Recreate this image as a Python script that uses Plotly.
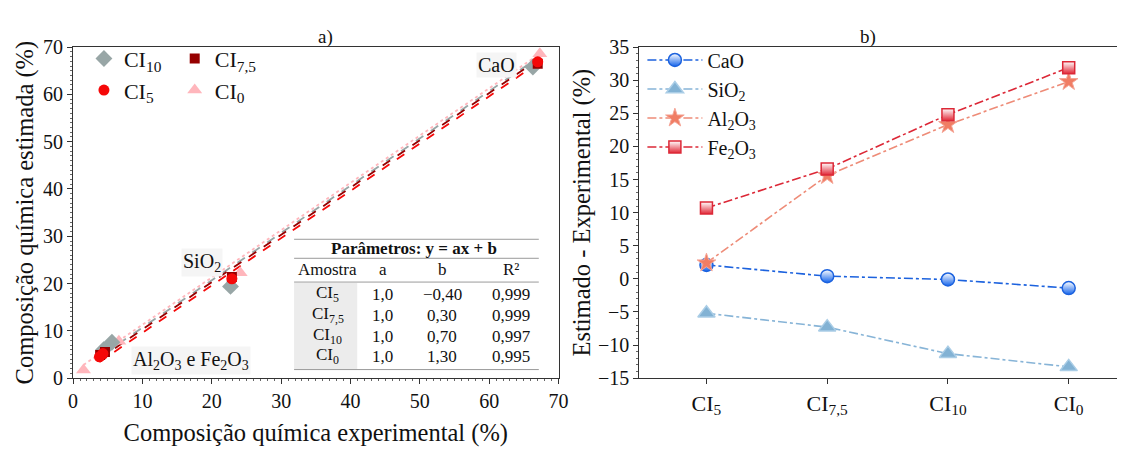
import plotly.graph_objects as go

W, H = 1127, 450
FONT = "Liberation Serif"


def px(x):
    return x / W


def py(y):
    return 1 - y / H


# ---- panel a) data: experimental vs estimated composition (CaO, SiO2, Al2O3, Fe2O3)
sample_labels = {"CI10": "CI<sub>10</sub>", "CI7.5": "CI<sub>7,5</sub>",
                 "CI5": "CI<sub>5</sub>", "CI0": "CI<sub>0</sub>"}
exp_ci10 = [66.3, 22.7, 5.6, 4.4]
est_ci10 = [65.8, 19.4, 7.6, 6.0]
exp_ci75 = [67.0, 22.9, 4.6, 3.9]
est_ci75 = [66.5, 21.4, 5.5, 4.9]
exp_ci5 = [67.0, 22.9, 4.3, 3.8]
est_ci5 = [66.9, 21.0, 5.2, 4.5]
exp_ci0 = [67.3, 24.1, 6.6, 1.5]
est_ci0 = [68.6, 22.3, 7.8, 1.7]

# fit parameters y = a x + b
fit_a = {"CI5": 1.0, "CI7.5": 1.0, "CI10": 1.0, "CI0": 1.0}
fit_b = {"CI5": -0.40, "CI7.5": 0.30, "CI10": 0.70, "CI0": 1.30}
fit_r2 = {"CI5": "0,999", "CI7.5": "0,999", "CI10": "0,997", "CI0": "0,995"}
table_rows = ["CI5", "CI7.5", "CI10", "CI0"]
a_text = ["1,0", "1,0", "1,0", "1,0"]
b_text = ["\u22120,40", "0,30", "0,70", "1,30"]

# ---- panel b) data: relative deviation per oxide
cat_labels = ["CI<sub>5</sub>", "CI<sub>7,5</sub>", "CI<sub>10</sub>", "CI<sub>0</sub>"]
dev_cao = [2.1, 0.4, -0.1, -1.4]
dev_sio2 = [-5.2, -7.3, -11.3, -13.3]
dev_al2o3 = [2.4, 15.6, 23.3, 29.8]
dev_fe2o3 = [10.7, 16.6, 24.8, 31.9]

fig = go.Figure()

styles = {
    "CI10": dict(color="rgb(152,166,166)", symbol="diamond", size=13, dash="dash"),
    "CI7.5": dict(color="rgb(150,0,0)", symbol="square", size=10, dash="dash"),
    "CI5": dict(color="rgb(245,8,8)", symbol="circle", size=11, dash="dash"),
    "CI0": dict(color="rgb(255,182,188)", symbol="triangle-up", size=13, dash="dot"),
}
series = {"CI10": (exp_ci10, est_ci10), "CI7.5": (exp_ci75, est_ci75),
          "CI5": (exp_ci5, est_ci5), "CI0": (exp_ci0, est_ci0)}

# fitted lines
for s in ["CI0", "CI10", "CI7.5", "CI5"]:
    xs = series[s][0]
    x0, x1 = min(xs), max(xs)
    fig.add_trace(go.Scatter(
        x=[x0, x1], y=[fit_a[s] * x0 + fit_b[s], fit_a[s] * x1 + fit_b[s]],
        mode="lines", line=dict(color=styles[s]["color"], width=1.8, dash=styles[s]["dash"]),
        showlegend=False, hoverinfo="skip", xaxis="x", yaxis="y"))

legend_of = {"CI10": "legend", "CI5": "legend", "CI7.5": "legend2", "CI0": "legend2"}
rank_of = {"CI10": 1, "CI5": 2, "CI7.5": 1, "CI0": 2}
for s in ["CI0", "CI10", "CI7.5", "CI5"]:
    st = styles[s]
    fig.add_trace(go.Scatter(
        x=series[s][0], y=series[s][1], mode="markers", name=sample_labels[s],
        marker=dict(color=st["color"], symbol=st["symbol"], size=st["size"], line=dict(width=0)),
        legend=legend_of[s], legendrank=rank_of[s], xaxis="x", yaxis="y"))

# panel b traces
cats = list(range(len(cat_labels)))
fig.add_trace(go.Scatter(
    x=cats, y=dev_cao, name="CaO", mode="lines+markers",
    line=dict(color="rgb(28,98,222)", width=1.6, dash="dashdot"),
    marker=dict(symbol="circle", size=13, color="white",
                gradient=dict(type="vertical", color="rgb(20,100,235)"),
                line=dict(color="rgb(28,98,222)", width=1.5)),
    legend="legend3", xaxis="x2", yaxis="y2"))
fig.add_trace(go.Scatter(
    x=cats, y=dev_sio2, name="SiO<sub>2</sub>", mode="lines+markers",
    line=dict(color="rgb(135,180,215)", width=1.6, dash="dashdot"),
    marker=dict(symbol="triangle-up", size=15, color="rgb(130,178,212)",
                line=dict(color="rgb(170,205,230)", width=1.5)),
    legend="legend3", xaxis="x2", yaxis="y2"))
fig.add_trace(go.Scatter(
    x=cats, y=dev_al2o3, name="Al<sub>2</sub>O<sub>3</sub>", mode="lines+markers",
    line=dict(color="rgb(238,140,120)", width=1.6, dash="dashdot"),
    marker=dict(symbol="star", size=14, color="rgb(240,125,100)",
                line=dict(color="rgb(245,165,150)", width=1)),
    legend="legend3", xaxis="x2", yaxis="y2"))
fig.add_trace(go.Scatter(
    x=cats, y=dev_fe2o3, name="Fe<sub>2</sub>O<sub>3</sub>", mode="lines+markers",
    line=dict(color="rgb(220,40,55)", width=1.6, dash="dashdot"),
    marker=dict(symbol="square", size=12, color="white",
                gradient=dict(type="vertical", color="rgb(225,40,55)"),
                line=dict(color="rgb(220,40,55)", width=1.5)),
    legend="legend3", xaxis="x2", yaxis="y2"))

axis_common = dict(showline=True, linecolor="#333", linewidth=1.3, ticks="outside",
                   ticklen=5, tickcolor="#333",
                   showgrid=False, zeroline=False)
tick_font = dict(family=FONT, size=20, color="#111")
title_font = dict(family=FONT, size=24.5, color="#111")
minor_ticks = dict(dtick=1, ticklen=2, ticks="outside", tickcolor="#666")

# ---- table of fit parameters (drawn inside panel a)
t_left, t_right = px(293), px(541)
shapes = [
    dict(type="rect", xref="paper", yref="paper", x0=t_left, x1=t_right,
         y0=py(379), y1=py(237), fillcolor="white", line=dict(width=0), layer="above"),
    dict(type="rect", xref="paper", yref="paper", x0=t_left, x1=px(357),
         y0=py(377), y1=py(286), fillcolor="rgb(236,236,236)", line=dict(width=0), layer="above"),
]
for yl in [240, 260, 285, 377]:
    shapes.append(dict(type="line", xref="paper", yref="paper", x0=t_left, x1=t_right,
                       y0=py(yl), y1=py(yl), line=dict(color="#9a9a9a", width=1), layer="above"))

annotations = [
    dict(text="<b>Parâmetros: y = ax + b</b>", x=px(415), y=py(250)),
    dict(text="Amostra", x=px(327), y=py(272)),
    dict(text="a", x=px(383), y=py(272)),
    dict(text="b", x=px(443), y=py(272)),
    dict(text="R²", x=px(513), y=py(272)),
]
row_y = [298, 320, 342, 363]
for i, s in enumerate(table_rows):
    annotations += [
        dict(text=sample_labels[s], x=px(327), y=py(row_y[i])),
        dict(text=a_text[i], x=px(383), y=py(row_y[i])),
        dict(text=b_text[i], x=px(443), y=py(row_y[i])),
        dict(text=fit_r2[s], x=px(513), y=py(row_y[i])),
    ]
for a in annotations:
    a.update(xref="paper", yref="paper", showarrow=False, xanchor="center", yanchor="middle",
             font=dict(family=FONT, size=17, color="#111"))

# oxide labels on panel a
for txt, x, y in [("CaO", 498, 57), ("SiO<sub>2</sub>", 200, 264),
                  ("Al<sub>2</sub>O<sub>3</sub> e Fe<sub>2</sub>O<sub>3</sub>", 189, 367)]:
    annotations.append(dict(text=txt, x=px(x), y=py(y), xref="paper", yref="paper",
                            showarrow=False, xanchor="center", yanchor="middle",
                            bgcolor="rgb(245,245,245)",
                            font=dict(family=FONT, size=20, color="#111")))

# panel titles
annotations.append(dict(text="a)", x=px(315), y=py(14), xref="paper", yref="paper",
                        showarrow=False, font=dict(family=FONT, size=19, color="#111")))
annotations.append(dict(text="b)", x=px(885), y=py(14), xref="paper", yref="paper",
                        showarrow=False, font=dict(family=FONT, size=19, color="#111")))

legend_common = dict(bgcolor="rgba(0,0,0,0)", borderwidth=0,
                     font=dict(family=FONT, size=22, color="#111"),
                     xanchor="left", yanchor="top", tracegroupgap=0)

fig.update_layout(
    width=W, height=H,
    margin=dict(l=0, r=0, t=0, b=0),
    paper_bgcolor="white", plot_bgcolor="white",
    font=dict(family=FONT, color="#111"),
    xaxis=dict(domain=[px(69), px(561)], range=[0, 70], dtick=10, mirror=True,
               minor=minor_ticks, tickfont=tick_font,
               title=dict(text="Composição química experimental (%)",
                          font=title_font, standoff=12),
               anchor="y", **axis_common),
    yaxis=dict(domain=[1 - 386 / H, 1 - 38 / H], range=[0, 70], dtick=10, mirror=True,
               minor=minor_ticks, tickfont=tick_font,
               title=dict(text="Composição química estimada (%)",
                          font=title_font, standoff=2),
               anchor="x", **axis_common),
    xaxis2=dict(domain=[px(643), 1.0], range=[-0.555, 3.40], tickvals=cats,
                ticktext=cat_labels, mirror=True, anchor="y2",
                tickfont=dict(family=FONT, size=22, color="#111"), **axis_common),
    yaxis2=dict(domain=[1 - 386 / H, 1 - 38 / H], range=[-15, 35], dtick=5,
                minor=minor_ticks, tickfont=tick_font,
                title=dict(text="Estimado - Experimental (%)",
                           font=title_font, standoff=0),
                anchor="x2", **axis_common),
    legend=dict(x=px(80), y=py(28), **legend_common),
    legend2=dict(x=px(172), y=py(28), **legend_common),
    legend3=dict(x=px(646), y=py(31), itemwidth=55,
                 **{**legend_common, "font": dict(family=FONT, size=20, color="#111")}),
    shapes=shapes,
    annotations=annotations,
)

fig.write_html("out.html")
